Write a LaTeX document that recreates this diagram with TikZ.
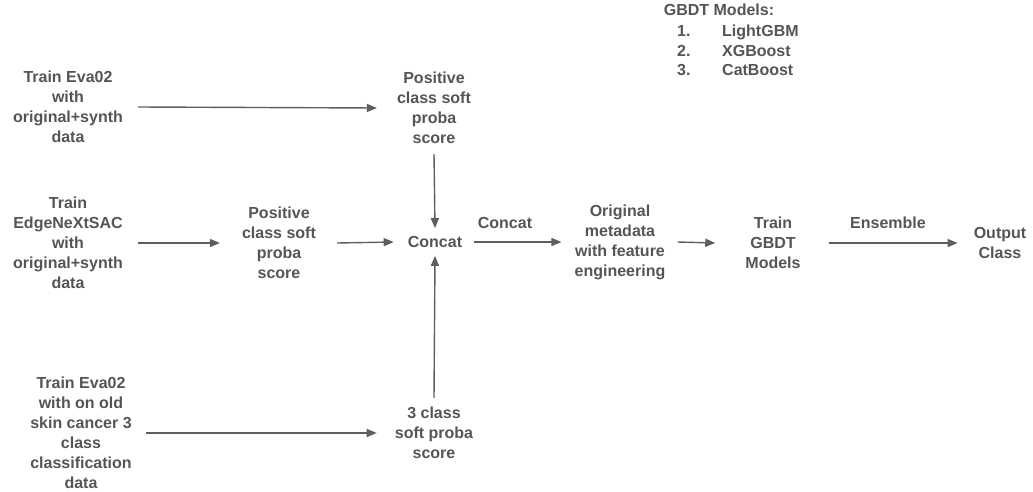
\documentclass[tikz,border=0pt]{standalone}
\usepackage{fontspec}
\setmainfont{Liberation Sans}
\usetikzlibrary{arrows.meta}
\definecolor{txt}{HTML}{555555}
\definecolor{ln}{HTML}{5E5E5E}
\begin{document}
\begin{tikzpicture}[x=1pt,y=-1pt,
  lbl/.style={inner sep=0pt,align=center,text=txt,font=\fontsize{16}{20}\selectfont\bfseries},
  arr/.style={draw=ln,line width=1.4pt,-{Triangle[length=10pt,width=8pt]}}]
\useasboundingbox[fill=white] (0,0) rectangle (1033,492);
% nodes
\node[lbl] (A1) at (68,107) {Train Eva02\\with\\original+synth\\data};
\node[lbl] (P1) at (434,108) {Positive\\class soft\\proba\\score};
\node[lbl] (A2) at (68,243) {Train\\EdgeNeXtSAC\\with\\original+synth\\data};
\node[lbl] (P2) at (279,243) {Positive\\class soft\\proba\\score};
\node[lbl] (C) at (435,242) {Concat};
\node[lbl] (A3) at (81,433) {Train Eva02\\with on old\\skin cancer 3\\class\\classification\\data};
\node[lbl] (P3) at (434,433) {3 class\\soft proba\\score};
\node[lbl] (O) at (620,242) {Original\\metadata\\with feature\\engineering};
\node[lbl] (T) at (773,243) {Train\\GBDT\\Models};
\node[lbl] (OC) at (1000,243) {Output\\Class};
\node[lbl] (lc) at (505,223) {Concat};
\node[lbl] (le) at (888,223) {Ensemble};
% GBDT list
\node[lbl,anchor=base] (g0) at (719,16) {GBDT Models:};
\node[lbl,anchor=base west] (g1n) at (677,37) {1.};
\node[lbl,anchor=base west] (g1) at (722,37) {LightGBM};
\node[lbl,anchor=base west] (g2n) at (677,57) {2.};
\node[lbl,anchor=base west] (g2) at (722,57) {XGBoost};
\node[lbl,anchor=base west] (g3n) at (677,76) {3.};
\node[lbl,anchor=base west] (g3) at (722,76) {CatBoost};
% connectors
\draw[arr] ([xshift=15pt]A1.east) -- ([xshift=-20pt]P1.west);
\draw[arr] ([xshift=15pt]A2.east) -- ([xshift=-22pt]P2.west);
\draw[arr] ([xshift=21pt]P2.east) -- ([xshift=-14pt]C.west);
\draw[arr] ([xshift=14pt]A3.east) -- ([xshift=-18pt]P3.west);
\draw[arr] ([yshift=-10pt]P1.south) -- ([yshift=8pt]C.north);
\draw[arr] ([yshift=9pt]P3.north) -- ([yshift=-8pt]C.south);
\draw[arr] ([xshift=12pt]C.east) -- ([xshift=-13pt]O.west);
\draw[arr] ([xshift=12pt]O.east) -- ([xshift=-30pt]T.west);
\draw[arr] ([xshift=28pt]T.east) -- ([xshift=-16pt]OC.west);
\end{tikzpicture}
\end{document}
